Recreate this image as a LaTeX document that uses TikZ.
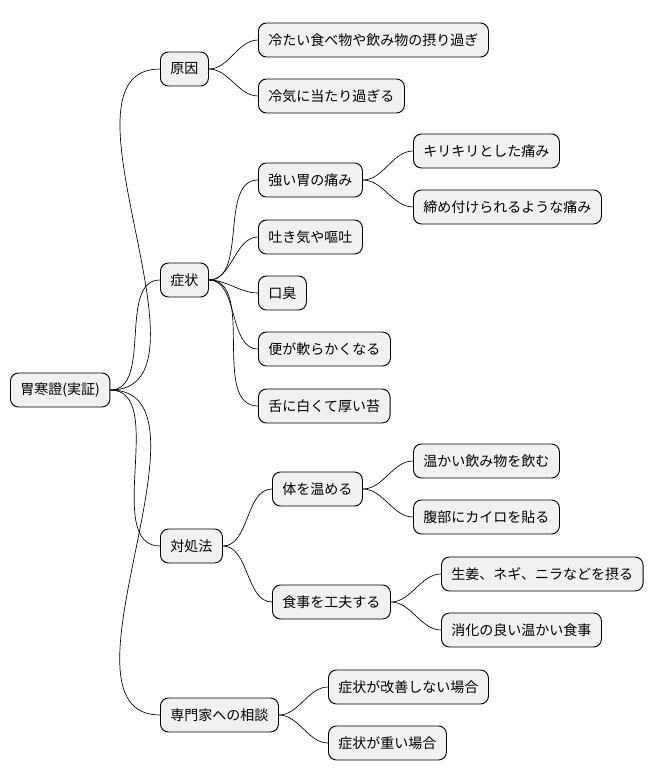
\documentclass[tikz,border=0pt]{standalone}
\usepackage{fontspec}
\setmainfont{Noto Sans CJK JP}
\begin{document}
\begin{tikzpicture}[x=0.75pt,y=-0.75pt,
  b/.style={draw=black,fill={rgb,255:red,241;green,241;blue,241},rounded corners=6pt,line width=0.7pt,
    minimum height=25.5pt,inner xsep=7.5pt,inner ysep=0pt,anchor=west,font=\fontsize{10.5pt}{12pt}\selectfont},
  c/.style={line width=0.5pt,out=0,in=180,looseness=0.9}]
\useasboundingbox (0,0) rectangle (653,781);
\node[b] (r) at (10,390) {胃寒證(実証)};
\node[b] (a) at (160,69) {原因};
\node[b] (a1) at (258,40) {冷たい食べ物や飲み物の摂り過ぎ};
\node[b] (a2) at (258,96) {冷気に当たり過ぎる};
\node[b] (s) at (160,280) {症状};
\node[b] (s1) at (258,180) {強い胃の痛み};
\node[b] (s11) at (413,151) {キリキリとした痛み};
\node[b] (s12) at (413,207) {締め付けられるような痛み};
\node[b] (s2) at (258,237) {吐き気や嘔吐};
\node[b] (s3) at (258,293) {口臭};
\node[b] (s4) at (258,349) {便が軟らかくなる};
\node[b] (s5) at (258,406) {舌に白くて厚い苔};
\node[b] (t) at (160,546) {対処法};
\node[b] (t1) at (272,489) {体を温める};
\node[b] (t11) at (413,461) {温かい飲み物を飲む};
\node[b] (t12) at (413,517) {腹部にカイロを貼る};
\node[b] (t2) at (272,602) {食事を工夫する};
\node[b] (t21) at (441,574) {生姜、ネギ、ニラなどを摂る};
\node[b] (t22) at (441,630) {消化の良い温かい食事};
\node[b] (p) at (160,715) {専門家への相談};
\node[b] (p1) at (328,687) {症状が改善しない場合};
\node[b] (p2) at (328,743) {症状が重い場合};
\foreach \u/\v in {r/a,r/s,r/t,r/p,a/a1,a/a2,s/s1,s/s2,s/s3,s/s4,s/s5,s1/s11,s1/s12,t/t1,t/t2,t1/t11,t1/t12,t2/t21,t2/t22,p/p1,p/p2}
  \draw[c] (\u.east) to (\v.west);
\end{tikzpicture}
\end{document}
